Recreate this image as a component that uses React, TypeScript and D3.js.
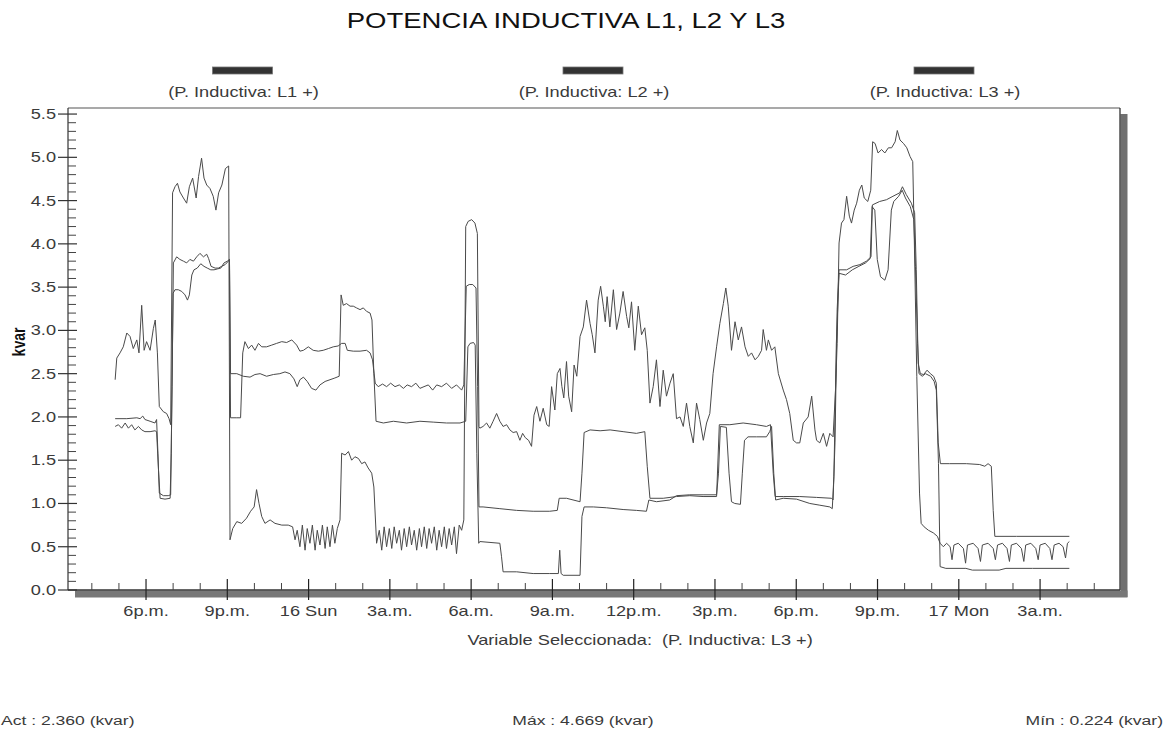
import React from "react";
import * as d3 from "d3";

// Time is expressed in hours counted from 00:00 on Saturday 15.
// Each series is a list of [hour, kvar] readings.

const L1_POINTS: [number, number][] = [
  [16.86, 2.43], [16.92, 2.68], [17.04, 2.74], [17.16, 2.81], [17.29, 2.97], [17.41, 2.93],
  [17.53, 2.79], [17.66, 2.89], [17.74, 2.74], [17.84, 3.29], [17.93, 2.77], [18.02, 2.87],
  [18.15, 2.77], [18.27, 3.02], [18.34, 3.12], [18.42, 2.74], [18.49, 2.12], [18.64, 2.06],
  [18.76, 2.04], [18.85, 1.98], [18.91, 1.91], [18.98, 4.59], [19.07, 4.66], [19.16, 4.7],
  [19.25, 4.6], [19.38, 4.53], [19.5, 4.47], [19.6, 4.66], [19.72, 4.76], [19.85, 4.53],
  [19.94, 4.78], [20.05, 4.99], [20.14, 4.76], [20.24, 4.68], [20.36, 4.64], [20.48, 4.55],
  [20.58, 4.39], [20.68, 4.59], [20.8, 4.68], [20.93, 4.87], [21.05, 4.9], [21.1, 0.58],
  [21.2, 0.71], [21.35, 0.79], [21.53, 0.77], [21.71, 0.83], [21.86, 0.91], [21.99, 0.96],
  [22.08, 1.16], [22.17, 1.0], [22.27, 0.85], [22.39, 0.77], [22.58, 0.81], [22.76, 0.77],
  [23.01, 0.75], [23.25, 0.75], [23.41, 0.73], [23.5, 0.58], [23.58, 0.69], [23.68, 0.5],
  [23.77, 0.75], [23.87, 0.46], [23.95, 0.71], [24.05, 0.54], [24.14, 0.75], [24.24, 0.46],
  [24.32, 0.69], [24.42, 0.52], [24.51, 0.75], [24.61, 0.48], [24.69, 0.73], [24.79, 0.5],
  [24.88, 0.75], [24.97, 0.54], [25.06, 0.71], [25.16, 0.81], [25.22, 1.58], [25.35, 1.56],
  [25.47, 1.6], [25.59, 1.5], [25.71, 1.54], [25.84, 1.52], [25.96, 1.46], [26.08, 1.48],
  [26.2, 1.41], [26.33, 1.35], [26.41, 1.19], [26.51, 0.54], [26.61, 0.69], [26.7, 0.46],
  [26.79, 0.73], [26.88, 0.5], [26.98, 0.71], [27.07, 0.48], [27.16, 0.73], [27.25, 0.54],
  [27.35, 0.69], [27.43, 0.46], [27.53, 0.71], [27.62, 0.5], [27.72, 0.73], [27.8, 0.52],
  [27.9, 0.69], [27.99, 0.46], [28.09, 0.71], [28.17, 0.5], [28.27, 0.73], [28.36, 0.48],
  [28.45, 0.71], [28.54, 0.54], [28.64, 0.73], [28.73, 0.46], [28.82, 0.69], [28.91, 0.5],
  [29.01, 0.73], [29.09, 0.48], [29.19, 0.71], [29.28, 0.52], [29.38, 0.73], [29.46, 0.42],
  [29.56, 0.75], [29.65, 0.69], [29.73, 0.81], [29.8, 4.2], [29.89, 4.26], [30.02, 4.28],
  [30.14, 4.24], [30.23, 4.12], [30.29, 1.89], [30.32, 1.87], [30.44, 1.89], [30.57, 1.93],
  [30.69, 1.87], [30.81, 1.95], [30.94, 2.04], [31.06, 1.95], [31.18, 1.89], [31.31, 1.91],
  [31.43, 1.85], [31.55, 1.82], [31.68, 1.83], [31.8, 1.73], [31.9, 1.81], [32.0, 1.76],
  [32.12, 1.73], [32.23, 1.66], [32.32, 2.02], [32.42, 2.12], [32.54, 1.95], [32.66, 2.1],
  [32.79, 1.91], [32.88, 1.89], [32.97, 2.35], [33.09, 2.08], [33.18, 2.5], [33.28, 2.56],
  [33.35, 2.35], [33.42, 2.22], [33.52, 2.64], [33.6, 2.24], [33.71, 2.06], [33.8, 2.6],
  [33.9, 2.47], [34.02, 2.93], [34.14, 3.04], [34.26, 3.35], [34.39, 3.08], [34.47, 2.95],
  [34.57, 2.74], [34.69, 3.35], [34.78, 3.51], [34.88, 3.28], [34.95, 3.1], [35.02, 3.39],
  [35.12, 3.04], [35.25, 3.47], [35.37, 3.01], [35.49, 3.2], [35.61, 3.45], [35.74, 3.16],
  [35.82, 3.03], [35.92, 3.33], [36.04, 2.77], [36.17, 3.28], [36.29, 2.95], [36.41, 3.03],
  [36.5, 2.77], [36.6, 2.16], [36.72, 2.35], [36.84, 2.66], [36.97, 2.12], [37.09, 2.54],
  [37.21, 2.24], [37.34, 2.39], [37.46, 2.5], [37.58, 1.98], [37.71, 2.0], [37.83, 1.89],
  [37.95, 2.16], [38.07, 1.89], [38.2, 1.7], [38.32, 2.16], [38.44, 1.97], [38.57, 1.73],
  [38.69, 1.93], [38.81, 2.04], [38.93, 2.5], [39.06, 2.81], [39.18, 3.08], [39.31, 3.31],
  [39.4, 3.49], [39.49, 3.28], [39.61, 2.77], [39.74, 3.1], [39.86, 2.89], [39.98, 3.04],
  [40.11, 2.81], [40.23, 2.7], [40.35, 2.74], [40.48, 2.66], [40.6, 2.7], [40.72, 2.77],
  [40.78, 3.01], [40.9, 2.77], [40.97, 2.89], [41.09, 2.77], [41.21, 2.81], [41.34, 2.5],
  [41.52, 2.31], [41.64, 2.2], [41.76, 2.04], [41.89, 1.73], [42.01, 1.7], [42.13, 1.7],
  [42.26, 1.93], [42.44, 2.0], [42.57, 2.24], [42.69, 1.85], [42.75, 1.73], [42.87, 1.7],
  [43.0, 1.81], [43.12, 1.66], [43.24, 1.81], [43.36, 1.77], [43.45, 2.31], [43.51, 2.85],
  [43.58, 4.01], [43.67, 4.24], [43.76, 4.28], [43.86, 4.55], [43.96, 4.32], [44.04, 4.24],
  [44.14, 4.39], [44.23, 4.47], [44.33, 4.62], [44.42, 4.68], [44.51, 4.53], [44.64, 4.49],
  [44.75, 4.62], [44.82, 5.18], [44.91, 5.16], [45.02, 5.05], [45.15, 5.09], [45.27, 5.05],
  [45.4, 5.11], [45.52, 5.11], [45.65, 5.18], [45.73, 5.31], [45.83, 5.2], [45.96, 5.16],
  [46.08, 5.11], [46.2, 5.01], [46.3, 4.95], [46.36, 4.01], [46.45, 2.47], [46.55, 1.12],
  [46.61, 0.77], [46.72, 0.73], [46.88, 0.69], [47.06, 0.66], [47.21, 0.62], [47.31, 0.54],
  [47.43, 0.5], [47.55, 0.54], [47.68, 0.5], [47.75, 0.35], [47.82, 0.52], [47.98, 0.54],
  [48.17, 0.48], [48.25, 0.31], [48.32, 0.52], [48.53, 0.54], [48.71, 0.48], [48.8, 0.33],
  [48.87, 0.52], [49.08, 0.54], [49.27, 0.48], [49.35, 0.35], [49.43, 0.52], [49.61, 0.54],
  [49.78, 0.48], [49.87, 0.33], [49.94, 0.52], [50.13, 0.54], [50.31, 0.48], [50.4, 0.33],
  [50.47, 0.52], [50.66, 0.54], [50.84, 0.48], [50.93, 0.35], [51.0, 0.52], [51.19, 0.54],
  [51.36, 0.48], [51.44, 0.35], [51.52, 0.52], [51.7, 0.54], [51.85, 0.5], [51.94, 0.37],
  [52.01, 0.54], [52.08, 0.56],
];

const L2_POINTS: [number, number][] = [
  [16.86, 1.89], [16.98, 1.91], [17.1, 1.87], [17.23, 1.93], [17.35, 1.87], [17.47, 1.91],
  [17.59, 1.85], [17.72, 1.89], [17.84, 1.85], [17.96, 1.83], [18.15, 1.83], [18.33, 1.84],
  [18.39, 1.83], [18.46, 1.39], [18.52, 1.06], [18.7, 1.05], [18.89, 1.06], [18.93, 1.58],
  [19.0, 3.43], [19.07, 3.47], [19.19, 3.47], [19.32, 3.45], [19.44, 3.41], [19.53, 3.35],
  [19.6, 3.41], [19.69, 3.64], [19.77, 3.7], [19.89, 3.72], [20.02, 3.77], [20.14, 3.74],
  [20.26, 3.72], [20.39, 3.7], [20.51, 3.7], [20.63, 3.71], [20.76, 3.72], [20.88, 3.78],
  [21.0, 3.8], [21.08, 3.82], [21.12, 1.99], [21.35, 1.99], [21.49, 1.99], [21.57, 2.74],
  [21.65, 2.87], [21.78, 2.79], [21.9, 2.83], [22.02, 2.77], [22.15, 2.85], [22.27, 2.81],
  [22.45, 2.81], [22.64, 2.83], [22.82, 2.85], [23.01, 2.87], [23.19, 2.86], [23.38, 2.89],
  [23.56, 2.83], [23.68, 2.76], [23.81, 2.77], [23.99, 2.81], [24.17, 2.77], [24.36, 2.76],
  [24.54, 2.77], [24.73, 2.79], [24.91, 2.81], [25.09, 2.82], [25.22, 2.85], [25.35, 2.85],
  [25.43, 2.77], [25.65, 2.76], [25.9, 2.76], [26.14, 2.77], [26.27, 2.74], [26.36, 2.66],
  [26.46, 2.39], [26.57, 2.35], [26.73, 2.38], [26.88, 2.35], [27.03, 2.39], [27.19, 2.35],
  [27.35, 2.37], [27.5, 2.33], [27.64, 2.37], [27.8, 2.35], [27.96, 2.39], [28.11, 2.33],
  [28.26, 2.35], [28.42, 2.37], [28.58, 2.31], [28.73, 2.37], [28.91, 2.35], [29.09, 2.39],
  [29.28, 2.33], [29.46, 2.37], [29.65, 2.31], [29.73, 2.37], [29.82, 3.51], [29.93, 3.53],
  [30.06, 3.53], [30.18, 3.49], [30.24, 2.35], [30.29, 0.96], [30.44, 0.96], [31.06, 0.94],
  [31.68, 0.92], [32.29, 0.91], [32.9, 0.91], [33.18, 0.92], [33.25, 1.06], [33.52, 1.06],
  [34.02, 1.02], [34.09, 1.35], [34.17, 1.82], [34.39, 1.85], [34.76, 1.84], [35.13, 1.85],
  [35.61, 1.83], [36.1, 1.81], [36.41, 1.83], [36.5, 1.43], [36.6, 1.06], [37.09, 1.06],
  [37.58, 1.08], [38.07, 1.09], [38.56, 1.08], [39.06, 1.08], [39.16, 1.91], [39.55, 1.91],
  [40.04, 1.93], [40.53, 1.91], [40.9, 1.89], [41.05, 1.91], [41.15, 1.35], [41.22, 1.08],
  [41.52, 1.08], [42.13, 1.08], [42.75, 1.07], [43.3, 1.06], [43.36, 1.04], [43.43, 1.7],
  [43.51, 3.24], [43.58, 3.7], [43.86, 3.7], [44.1, 3.74], [44.35, 3.76], [44.59, 3.8],
  [44.76, 3.85], [44.81, 4.45], [45.08, 4.49], [45.33, 4.51], [45.57, 4.55], [45.82, 4.59],
  [45.92, 4.66], [46.06, 4.57], [46.25, 4.47], [46.37, 4.36], [46.43, 3.7], [46.5, 2.62],
  [46.58, 2.5], [46.7, 2.49], [46.83, 2.54], [46.95, 2.5], [47.07, 2.47], [47.17, 2.39],
  [47.24, 1.7], [47.32, 1.46], [47.66, 1.46], [48.28, 1.46], [48.77, 1.45], [48.96, 1.43],
  [49.08, 1.46], [49.2, 1.43], [49.27, 0.92], [49.33, 0.62], [50.13, 0.62], [52.08, 0.62],
];

const L3_POINTS: [number, number][] = [
  [16.86, 1.98], [17.29, 1.98], [17.66, 1.99], [17.78, 1.98], [17.88, 2.01], [17.96, 1.97],
  [18.15, 1.95], [18.33, 1.93], [18.39, 1.97], [18.44, 1.58], [18.49, 1.12], [18.64, 1.09],
  [18.82, 1.09], [18.91, 1.1], [18.96, 2.35], [19.01, 3.78], [19.13, 3.85], [19.25, 3.82],
  [19.38, 3.8], [19.5, 3.78], [19.62, 3.82], [19.75, 3.8], [19.87, 3.85], [19.99, 3.89],
  [20.12, 3.85], [20.24, 3.88], [20.31, 3.83], [20.4, 3.74], [20.55, 3.72], [20.67, 3.72],
  [20.79, 3.74], [20.92, 3.76], [21.04, 3.8], [21.08, 3.82], [21.12, 2.5], [21.35, 2.5],
  [21.59, 2.47], [21.84, 2.46], [22.02, 2.49], [22.21, 2.5], [22.45, 2.47], [22.7, 2.49],
  [22.94, 2.5], [23.13, 2.52], [23.31, 2.5], [23.46, 2.44], [23.58, 2.35], [23.68, 2.43],
  [23.81, 2.46], [23.95, 2.41], [24.11, 2.33], [24.27, 2.31], [24.42, 2.37], [24.61, 2.41],
  [24.79, 2.43], [24.97, 2.45], [25.13, 2.47], [25.2, 3.41], [25.28, 3.29], [25.4, 3.31],
  [25.53, 3.28], [25.65, 3.28], [25.77, 3.26], [25.9, 3.24], [26.02, 3.26], [26.14, 3.22],
  [26.27, 3.2], [26.34, 3.12], [26.41, 2.5], [26.49, 1.95], [26.76, 1.93], [27.13, 1.95],
  [27.62, 1.93], [28.11, 1.95], [28.6, 1.94], [29.09, 1.93], [29.59, 1.93], [29.8, 1.95],
  [29.88, 2.81], [29.96, 2.85], [30.09, 2.86], [30.15, 2.83], [30.21, 1.58], [30.28, 0.54],
  [30.32, 0.56], [31.06, 0.54], [31.12, 0.39], [31.18, 0.21], [31.68, 0.21], [32.29, 0.19],
  [32.9, 0.19], [33.22, 0.19], [33.27, 0.46], [33.32, 0.19], [33.4, 0.17], [34.02, 0.17],
  [34.09, 0.85], [34.17, 0.96], [34.51, 0.96], [35.0, 0.95], [35.61, 0.93], [36.1, 0.92],
  [36.47, 0.91], [36.56, 1.04], [36.84, 1.02], [37.33, 1.04], [37.58, 1.09], [38.07, 1.1],
  [38.56, 1.1], [39.06, 1.1], [39.13, 1.35], [39.2, 1.89], [39.42, 1.88], [39.52, 1.35],
  [39.61, 1.02], [39.73, 1.0], [39.94, 0.99], [40.01, 1.35], [40.09, 1.73], [40.22, 1.77],
  [40.53, 1.77], [40.9, 1.77], [41.02, 1.83], [41.09, 1.89], [41.17, 1.35], [41.24, 1.04],
  [41.52, 1.06], [42.01, 1.05], [42.5, 1.0], [42.87, 0.98], [43.24, 0.96], [43.33, 0.94],
  [43.39, 1.31], [43.48, 2.85], [43.58, 3.66], [43.82, 3.64], [44.07, 3.7], [44.31, 3.74],
  [44.56, 3.78], [44.73, 3.83], [44.8, 4.43], [44.9, 4.39], [44.99, 3.82], [45.11, 3.62],
  [45.27, 3.58], [45.39, 3.7], [45.51, 4.39], [45.6, 4.49], [45.78, 4.55], [45.91, 4.62],
  [46.03, 4.53], [46.21, 4.43], [46.34, 4.28], [46.4, 3.74], [46.48, 2.85], [46.53, 2.5],
  [46.65, 2.47], [46.77, 2.5], [46.96, 2.47], [47.09, 2.41], [47.17, 2.31], [47.25, 1.46],
  [47.31, 0.27], [47.52, 0.25], [48.26, 0.25], [48.5, 0.23], [49.49, 0.23], [49.74, 0.25],
  [50.72, 0.25], [52.08, 0.25],
];

const SERIES_NAMES = ["(P. Inductiva: L1 +)", "(P. Inductiva: L2 +)", "(P. Inductiva: L3 +)"];
const SERIES_POINTS = [L1_POINTS, L2_POINTS, L3_POINTS];

const X_MAJOR_HOURS = [18, 21, 24, 27, 30, 33, 36, 39, 42, 45, 48, 51];
const X_MAJOR_LABELS = ["6p.m.", "9p.m.", "16 Sun", "3a.m.", "6a.m.", "9a.m.", "12p.m.", "3p.m.", "6p.m.", "9p.m.", "17 Mon", "3a.m."];
const X_MINOR_HOURS = [16, 17, 19, 20, 22, 23, 25, 26, 28, 29, 31, 32, 34, 35, 37, 38, 40, 41, 43, 44, 46, 47, 49, 50, 52, 53];
const Y_MAJOR = [0, 0.5, 1, 1.5, 2, 2.5, 3, 3.5, 4, 4.5, 5, 5.5];

const TITLE = "POTENCIA INDUCTIVA L1, L2 Y L3";
const Y_TITLE = "kvar";
const SELECTED_CAPTION = "Variable Seleccionada:";
const SELECTED_NAME = "(P. Inductiva: L3 +)";
const FOOTER_ACT = "Act : 2.360 (kvar)";
const FOOTER_MAX = "Máx : 4.669 (kvar)";
const FOOTER_MIN = "Mín : 0.224 (kvar)";

const W = 1173;
const H = 733;
const LEFT = 68;
const RIGHT = 1120;
const TOP = 108;
const BOTTOM = 590;
const FONT = "'Liberation Sans', Arial, Helvetica, sans-serif";
const SX = 1.3; // horizontal stretch of the lettering

type TxtProps = {
  x: number;
  y: number;
  anchor?: "start" | "middle" | "end";
  size?: number;
  fill?: string;
  weight?: string;
  sx?: number;
  children: React.ReactNode;
};

function Txt({ x, y, anchor = "start", size = 14, fill = "#3a3a3a", weight = "normal", sx = SX, children }: TxtProps) {
  return (
    <text
      transform={`translate(${x},${y}) scale(${sx},1)`}
      textAnchor={anchor}
      fontFamily={FONT}
      fontSize={size}
      fontWeight={weight}
      fill={fill}
    >
      {children}
    </text>
  );
}

export default function App() {
  const x = d3.scaleLinear().domain([15.12, 53.95]).range([LEFT, RIGHT]);
  const y = d3.scaleLinear().domain([0, 5.57]).range([BOTTOM, TOP]);

  const line = d3
    .line<[number, number]>()
    .x((d) => x(d[0]))
    .y((d) => y(d[1]));

  const yMinor = d3.range(0, 56).map((i) => i / 10).filter((v) => Math.round(v * 10) % 5 !== 0);
  const legendCenters = [242.5, 593, 944];

  return (
    <svg
      width={W}
      height={H}
      viewBox={`0 0 ${W} ${H}`}
      style={{ position: "absolute", left: 0, top: 0, background: "#fff" }}
    >
      <rect x={0} y={0} width={W} height={H} fill="#fff" />

      {/* title */}
      <Txt x={566} y={28} anchor="middle" size={22} fill="#111" sx={1.25}>
        {TITLE}
      </Txt>

      {/* legend */}
      {SERIES_NAMES.map((name, i) => (
        <g key={name}>
          <rect x={legendCenters[i] - 30} y={67} width={60} height={7} fill="#333" stroke="#777" strokeWidth={0.8} />
          <Txt x={legendCenters[i] + 1} y={97} anchor="middle" size={14}>
            {name}
          </Txt>
        </g>
      ))}

      {/* frame shadow */}
      <rect x={RIGHT + 0.5} y={114} width={7} height={BOTTOM - 114 + 7} fill="#707070" />
      <rect x={75} y={BOTTOM + 0.5} width={RIGHT - 75 + 7.5} height={7} fill="#787878" />

      {/* frame */}
      <line x1={LEFT} x2={RIGHT} y1={TOP} y2={TOP} stroke="#555" strokeWidth={1.2} />
      <line x1={RIGHT} x2={RIGHT} y1={TOP} y2={BOTTOM} stroke="#222" strokeWidth={1.2} />
      <line x1={LEFT} x2={LEFT} y1={TOP} y2={BOTTOM} stroke="#333" strokeWidth={1.2} />
      <line x1={LEFT} x2={RIGHT} y1={BOTTOM} y2={BOTTOM} stroke="#333" strokeWidth={1.4} />

      {/* y axis ticks */}
      {yMinor.map((v) => (
        <line key={`ym${v}`} x1={LEFT} x2={LEFT + 8} y1={y(v)} y2={y(v)} stroke="#444" strokeWidth={1} />
      ))}
      {Y_MAJOR.map((v) => (
        <g key={`yM${v}`}>
          <line x1={LEFT - 10} x2={LEFT + 9} y1={y(v)} y2={y(v)} stroke="#333" strokeWidth={1.2} />
          <Txt x={56} y={y(v) + 5} anchor="end" size={14}>
            {v.toFixed(1)}
          </Txt>
        </g>
      ))}

      {/* x axis ticks */}
      {X_MINOR_HOURS.map((h) => (
        <line key={`xm${h}`} x1={x(h)} x2={x(h)} y1={BOTTOM - 7} y2={BOTTOM} stroke="#444" strokeWidth={1} />
      ))}
      {X_MAJOR_HOURS.map((h, i) => (
        <g key={`xM${h}`}>
          <line x1={x(h)} x2={x(h)} y1={BOTTOM - 11} y2={BOTTOM + 10} stroke="#222" strokeWidth={1.2} />
          <Txt x={x(h)} y={616} anchor="middle" size={14}>
            {X_MAJOR_LABELS[i]}
          </Txt>
        </g>
      ))}

      {/* y axis title */}
      <text
        transform={`translate(25,342) rotate(-90) scale(1,${SX})`}
        textAnchor="middle"
        fontFamily={FONT}
        fontSize={14}
        fontWeight="bold"
        fill="#111"
      >
        {Y_TITLE}
      </text>

      {/* series */}
      {SERIES_POINTS.map((pts, i) => (
        <path
          key={`s${i}`}
          d={line(pts) ?? ""}
          fill="none"
          stroke="#4a4a4a"
          strokeWidth={1}
          strokeLinejoin="round"
        />
      ))}

      {/* selected variable */}
      <Txt x={652} y={645} anchor="end" size={14}>
        {SELECTED_CAPTION}
      </Txt>
      <Txt x={662} y={645} anchor="start" size={14}>
        {SELECTED_NAME}
      </Txt>

      {/* statistics footer */}
      <Txt x={1} y={725} anchor="start" size={13.5}>
        {FOOTER_ACT}
      </Txt>
      <Txt x={583} y={725} anchor="middle" size={13.5}>
        {FOOTER_MAX}
      </Txt>
      <Txt x={1163} y={725} anchor="end" size={13.5}>
        {FOOTER_MIN}
      </Txt>
    </svg>
  );
}
